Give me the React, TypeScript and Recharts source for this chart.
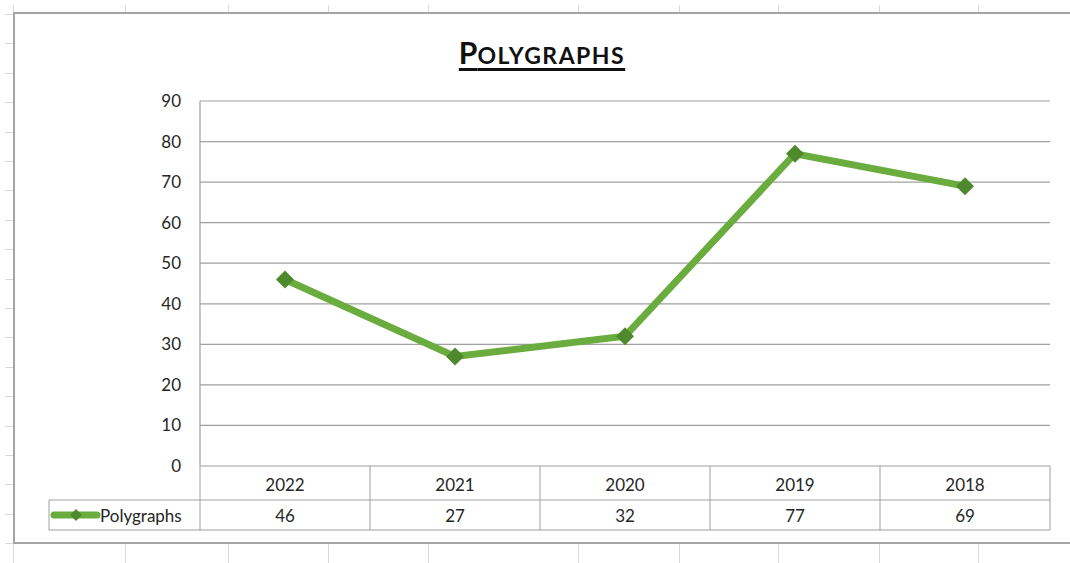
import { LineChart, Line, XAxis, YAxis, CartesianGrid } from "recharts";

const years = ["2022", "2021", "2020", "2019", "2018"];
const polygraphs = [46, 27, 32, 77, 69];
const yTicks = [0, 10, 20, 30, 40, 50, 60, 70, 80, 90];
const seriesName = "Polygraphs";

const data = years.map((year, i) => ({ year, value: polygraphs[i] }));

const CHART_W = 1056;
const CHART_H = 529;
const MARGIN = { top: 88, right: 20, bottom: 12, left: 126 };
const Y_W = 60;
const PLOT_W = CHART_W - MARGIN.left - MARGIN.right - Y_W;
const BAND = PLOT_W / years.length;
const ROW1 = 34;
const ROW2 = 30;
const LEGEND_W = 151;

const FONT = "Lato, 'Open Sans', sans-serif";
const FS = 17;
const GREEN = "#6aac3e";
const DARK_GREEN = "#4e8a2d";
const BORDER = "#a0a0a0";
const TEXT = "#262626";

// spreadsheet cell lines behind the chart
const sheetCols = [13, 125, 228, 328, 428, 578, 679, 778, 879, 978];
const sheetRows = Array.from({ length: 20 }, (_, k) => Math.round(13 + k * 29.4));

function Diamond(props: any) {
  const { cx, cy, index } = props;
  if (cx == null || cy == null) return null;
  const r = 9;
  return (
    <polygon
      key={`d-${index}`}
      points={`${cx},${cy - r} ${cx + r},${cy} ${cx},${cy + r} ${cx - r},${cy}`}
      fill={DARK_GREEN}
    />
  );
}

function TableTick(props: any) {
  const { x, y, payload } = props;
  const i = payload.index;
  const left = x - BAND / 2;
  const right = x + BAND / 2;
  const bottom = y + ROW1 + ROW2;
  const ly = y + ROW1 + ROW2 / 2;
  const lx = left - LEGEND_W;
  return (
    <g>
      <line x1={right} y1={y} x2={right} y2={bottom} stroke={BORDER} />
      <line x1={left} y1={y + ROW1} x2={right} y2={y + ROW1} stroke={BORDER} />
      <line x1={left} y1={bottom} x2={right} y2={bottom} stroke={BORDER} />
      {i === 0 && (
        <g>
          <line x1={left} y1={y} x2={left} y2={bottom} stroke={BORDER} />
          <line x1={lx} y1={y + ROW1} x2={left} y2={y + ROW1} stroke={BORDER} />
          <line x1={lx} y1={bottom} x2={left} y2={bottom} stroke={BORDER} />
          <line x1={lx} y1={y + ROW1} x2={lx} y2={bottom} stroke={BORDER} />
          <line x1={lx + 5} y1={ly} x2={lx + 48} y2={ly} stroke={GREEN} strokeWidth={7} strokeLinecap="round" />
          <polygon
            points={`${lx + 27},${ly - 6} ${lx + 33},${ly} ${lx + 27},${ly + 6} ${lx + 21},${ly}`}
            fill={DARK_GREEN}
          />
          <text x={lx + 51} y={ly} dominantBaseline="central" fontFamily={FONT} fontSize={FS} fill={TEXT}>
            {seriesName}
          </text>
        </g>
      )}
      <text
        x={x}
        y={y + ROW1 / 2 + 1}
        textAnchor="middle"
        dominantBaseline="central"
        fontFamily={FONT}
        fontSize={FS}
        fill={TEXT}
      >
        {payload.value}
      </text>
      <text x={x} y={ly} textAnchor="middle" dominantBaseline="central" fontFamily={FONT} fontSize={FS} fill={TEXT}>
        {polygraphs[i]}
      </text>
    </g>
  );
}

export default function App() {
  return (
    <div
      style={{
        position: "absolute",
        left: 0,
        top: 0,
        width: 1070,
        height: 563,
        background: "#fff",
        overflow: "hidden",
      }}
    >
      {sheetCols.map((c) => (
        <div
          key={`c${c}`}
          style={{ position: "absolute", left: c, top: 5, width: 1, height: 560, background: "#d9d9d9" }}
        />
      ))}
      {sheetRows.map((r) => (
        <div
          key={`r${r}`}
          style={{ position: "absolute", left: 5, top: r + 1, width: 1070, height: 1, background: "#d9d9d9" }}
        />
      ))}
      <div
        style={{
          position: "absolute",
          left: 13,
          top: 12,
          width: 1080,
          height: 532,
          boxSizing: "border-box",
          border: "2px solid #a5a5a5",
          background: "#fff",
        }}
      />
      <div
        style={{
          position: "absolute",
          left: 14,
          top: 35,
          width: 1056,
          textAlign: "center",
          fontFamily: "Lato, sans-serif",
          fontWeight: 700,
          color: "#111",
          lineHeight: "34px",
        }}
      >
        <span style={{ textDecoration: "underline", textDecorationThickness: 3, textUnderlineOffset: 4 }}>
          <span style={{ fontSize: 30 }}>P</span>
          <span style={{ fontSize: 23, letterSpacing: 1.5 }}>OLYGRAPHS</span>
        </span>
      </div>
      <div style={{ position: "absolute", left: 14, top: 13 }}>
        <LineChart width={CHART_W} height={CHART_H} data={data} margin={MARGIN}>
          <CartesianGrid vertical={false} stroke={BORDER} strokeWidth={1.2} />
          <XAxis
            dataKey="year"
            axisLine={false}
            tickLine={false}
            tickSize={0}
            tickMargin={0}
            height={ROW1 + ROW2}
            interval={0}
            padding={{ left: BAND / 2, right: BAND / 2 }}
            tick={<TableTick />}
          />
          <YAxis
            domain={[0, 90]}
            ticks={yTicks}
            width={Y_W}
            axisLine={{ stroke: BORDER, strokeWidth: 1.2 }}
            tickLine={false}
            tickSize={0}
            tickMargin={19}
            tick={{ fontFamily: FONT, fontSize: FS, fill: TEXT }}
          />
          <Line
            type="linear"
            dataKey="value"
            name={seriesName}
            stroke={GREEN}
            strokeWidth={7}
            dot={<Diamond />}
            activeDot={false}
            isAnimationActive={false}
          />
        </LineChart>
      </div>
    </div>
  );
}
